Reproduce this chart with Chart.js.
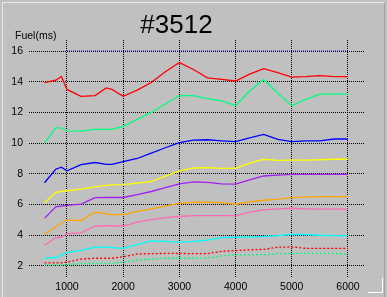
<!DOCTYPE html>
<html>
<head>
  <meta charset="utf-8">
  <title>#3512</title>
  <script src="https://cdn.jsdelivr.net/npm/chart.js"></script>
  <style>
    body { margin: 0; background: #c0c0c0; }
    #frame { position: relative; width: 387px; height: 297px; overflow: hidden; }
    #edge { position: absolute; left: 2px; top: 2px; width: 381px; height: 300px;
            border-top: 1px solid #e8e8e8; border-left: 1px solid #e8e8e8; border-right: 1px solid #a0a0a0; }
    #grip { position: absolute; left: 368px; top: 278px; width: 14px; height: 14px;
            border-right: 1px solid #ffffff; border-bottom: 1px solid #ffffff; }
    canvas { position: absolute; left: 0; top: 0; }
  </style>
</head>
<body>
  <div id="frame">
    <div id="edge"></div>
    <div id="grip"></div>
    <canvas id="myChart" width="387" height="297"></canvas>
  </div>

  <script>
    // engine speed (rpm) where each curve has a point
    const rpm = [600, 800, 900, 1000, 1250, 1500, 1700, 1800, 2000, 2250, 2500, 2750, 3000,
                 3250, 3500, 3750, 4000, 4250, 4500, 4750, 5000, 5250, 5500, 5750, 6000];

    // fuel injection time (ms), one curve per load row
    const redTop   = [13.95, 14.1, 14.35, 13.5, 13.05, 13.1, 13.6, 13.5, 13.05, 13.45, 13.95, 14.65, 15.25,
                      14.8, 14.25, 14.15, 14.05, 14.5, 14.85, 14.6, 14.3, 14.33, 14.4, 14.33, 14.33];
    const greenTop = [10.0, 11.0, 11.0, 10.8, 10.78, 10.9, 10.9, 10.9, 11.1, 11.55, 12.0, 12.55, 13.1,
                      13.1, 12.9, 12.75, 12.45, 13.4, 14.15, 13.25, 12.45, 12.85, 13.2, 13.2, 13.2];
    const blue     = [7.42, 8.3, 8.43, 8.2, 8.6, 8.74, 8.62, 8.62, 8.8, 9.0, 9.35, 9.7, 10.03,
                      10.2, 10.22, 10.15, 10.1, 10.35, 10.57, 10.25, 10.1, 10.15, 10.15, 10.27, 10.27];
    const yellow   = [6.1, 6.8, 6.85, 6.9, 7.0, 7.15, 7.25, 7.28, 7.3, 7.4, 7.5, 7.85, 8.2,
                      8.38, 8.4, 8.36, 8.36, 8.7, 8.95, 8.88, 8.9, 8.9, 8.92, 8.95, 8.95];
    const purple   = [5.1, 5.85, 5.9, 5.95, 6.03, 6.45, 6.46, 6.46, 6.46, 6.65, 6.85, 7.1, 7.34,
                      7.48, 7.45, 7.35, 7.33, 7.6, 7.86, 7.92, 7.97, 7.97, 7.97, 7.97, 7.97];
    const orange   = [4.05, 4.55, 4.8, 5.0, 4.95, 5.5, 5.4, 5.35, 5.35, 5.55, 5.72, 5.9, 6.08,
                      6.15, 6.15, 6.12, 6.02, 6.18, 6.28, 6.35, 6.45, 6.5, 6.52, 6.52, 6.52];
    const pink     = [3.35, 3.85, 3.87, 4.1, 4.15, 4.6, 4.62, 4.62, 4.6, 4.85, 5.02, 5.15, 5.22,
                      5.28, 5.28, 5.28, 5.28, 5.5, 5.65, 5.72, 5.76, 5.72, 5.7, 5.7, 5.7];
    const cyan     = [2.5, 2.55, 2.7, 2.88, 3.02, 3.22, 3.22, 3.2, 3.15, 3.4, 3.63, 3.6, 3.55,
                      3.6, 3.68, 3.85, 3.87, 3.9, 3.92, 3.97, 4.05, 4.05, 4.0, 3.98, 3.97];
    const redLow   = [2.2, 2.2, 2.2, 2.25, 2.45, 2.5, 2.5, 2.5, 2.6, 2.78, 2.8, 2.82, 2.82,
                      2.8, 2.8, 2.95, 3.0, 3.05, 3.08, 3.22, 3.24, 3.15, 3.15, 3.15, 3.15];
    const greenLow = [2.07, 2.07, 2.07, 2.1, 2.15, 2.17, 2.17, 2.17, 2.25, 2.37, 2.45, 2.5, 2.5,
                      2.5, 2.52, 2.65, 2.72, 2.72, 2.74, 2.8, 2.82, 2.82, 2.82, 2.82, 2.76];

    // limit line along the top
    const limitRpm = [1000, 6000];
    const limitVal = [16, 16];

    const xTicks = [1000, 2000, 3000, 4000, 5000, 6000];
    const yTicks = [2, 4, 6, 8, 10, 12, 14, 16];

    function pts(xs, ys) {
      return xs.map((x, i) => ({ x: x, y: ys[i] }));
    }

    function curve(values, color, dotted) {
      return {
        data: pts(rpm, values),
        borderColor: color,
        borderWidth: 1.3,
        borderDash: dotted ? [2, 2] : [],
        pointRadius: 0,
        tension: 0,
        fill: false
      };
    }

    const labelsPlugin = {
      id: 'labels',
      afterDraw(chart) {
        const c = chart.ctx;
        c.save();
        c.fillStyle = '#000';
        c.textBaseline = 'alphabetic';
        c.textAlign = 'center';
        c.font = '26px "Liberation Sans", Arial, sans-serif';
        c.fillText('#3512', 176.5, 33);
        c.textAlign = 'left';
        c.font = '10.5px "Liberation Sans", Arial, sans-serif';
        c.fillText('Fuel(ms)', 15, 39);
        c.restore();
      }
    };

    const tickFont = { family: '"Liberation Sans", Arial, sans-serif', size: 10.5 };
    const dots = [1, 1];

    const ctx = document.getElementById('myChart').getContext('2d');
    const myChart = new Chart(ctx, {
      type: 'line',
      data: {
        datasets: [
          {
            data: pts(limitRpm, limitVal),
            borderColor: '#0000a0',
            borderWidth: 1,
            borderDash: dots,
            pointRadius: 0,
            fill: false
          },
          curve(redTop, '#ff0000'),
          curve(greenTop, '#00ff7f'),
          curve(blue, '#0000ff'),
          curve(yellow, '#ffff00'),
          curve(purple, '#a020f0'),
          curve(orange, '#ffa500'),
          curve(pink, '#ff69b4'),
          curve(cyan, '#00ffff'),
          curve(redLow, '#ff0000', true),
          curve(greenLow, '#00ff7f', true)
        ]
      },
      options: {
        responsive: false,
        animation: false,
        layout: { padding: { top: 40, right: 23, left: 0, bottom: 0 } },
        plugins: {
          legend: { display: false },
          tooltip: { enabled: false }
        },
        scales: {
          x: {
            type: 'linear',
            min: 324,
            max: 6285,
            afterBuildTicks: s => { s.ticks = xTicks.map(v => ({ value: v })); },
            afterFit: s => { s.height = 20; },
            border: { display: false, dash: dots },
            grid: { color: '#000', lineWidth: 1, drawTicks: false, borderDash: dots },
            ticks: { color: '#000', font: tickFont, padding: 4, maxRotation: 0,
                     callback: v => String(v) }
          },
          y: {
            min: 1.28,
            max: 16.72,
            afterBuildTicks: s => { s.ticks = yTicks.map(v => ({ value: v })); },
            afterFit: s => { s.width = 29; },
            border: { display: false, dash: dots },
            grid: { color: '#000', lineWidth: 1, drawTicks: false, borderDash: dots },
            ticks: { color: '#000', font: tickFont, padding: 6,
                     callback: v => String(v) }
          }
        }
      },
      plugins: [labelsPlugin]
    });
  </script>
</body>
</html>
